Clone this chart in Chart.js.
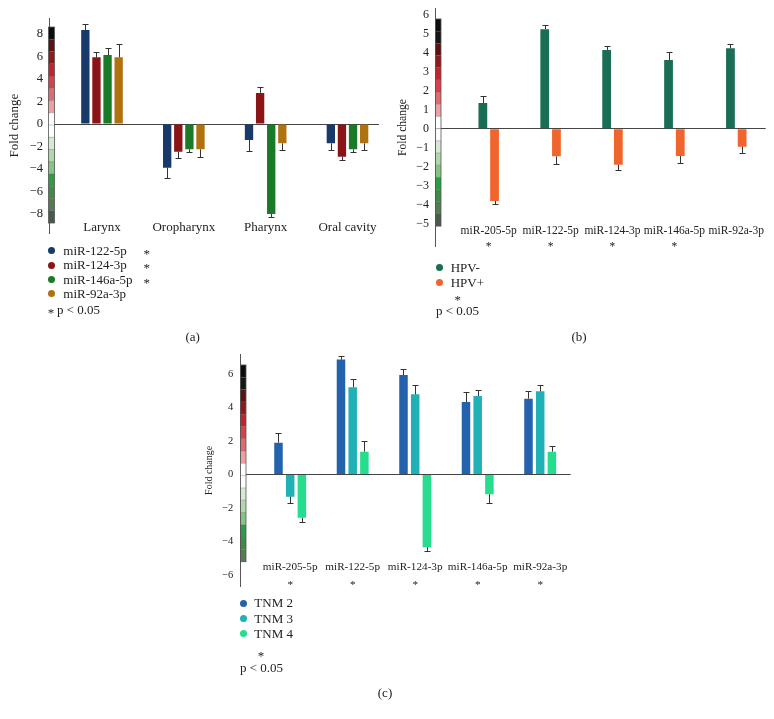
<!DOCTYPE html>
<html><head><meta charset="utf-8">
<script src="https://cdn.jsdelivr.net/npm/chart.js@4/dist/chart.umd.min.js"></script>
<style>
html,body{margin:0;padding:0;background:#fff;}
#wrap{position:relative;width:774px;height:719px;overflow:hidden;font-family:"Liberation Serif","DejaVu Serif",serif;color:#222;}
canvas{position:absolute;left:0;top:0;}
.t{position:absolute;white-space:nowrap;font-size:13px;line-height:16px;height:16px;}
.dot{position:absolute;width:7px;height:7px;border-radius:50%;}
</style></head><body><div id="wrap">
<canvas id="ca" width="774" height="719"></canvas>
<canvas id="cb" width="774" height="719"></canvas>
<canvas id="cc" width="774" height="719"></canvas>
</div>
<script>
// ---------- DATA ----------
// Panel (a): tumour site
const sitesA = ['Larynx', 'Oropharynx', 'Pharynx', 'Oral cavity'];
const mirNamesA = ['miR-122-5p', 'miR-124-3p', 'miR-146a-5p', 'miR-92a-3p'];
const mirSigA = [true, true, true, false];
const a_miR122 = [8.36, -3.88, -1.42, -1.72];
const a_miR124 = [5.93, -2.46, 2.76, -2.91];
const a_miR146a = [6.13, -2.25, -8.00, -2.25];
const a_miR92a = [5.93, -2.25, -1.72, -1.72];
const a_err122 = [0.53, 0.95, 0.98, 0.56];
const a_err124 = [0.44, 0.54, 0.56, 0.32];
const a_err146a = [0.65, 0.27, 0.27, 0.27];
const a_err92a = [1.21, 0.71, 0.56, 0.56];
const yTicksA = [8, 6, 4, 2, 0, -2, -4, -6, -8];

// Panel (b): HPV status
const mirsB = ['miR-205-5p', 'miR-122-5p', 'miR-124-3p', 'miR-146a-5p', 'miR-92a-3p'];
const sigB = [true, true, true, true, false];
const groupsB = ['HPV-', 'HPV+'];
const b_hpvNeg = [1.36, 5.24, 4.15, 3.62, 4.24];
const b_hpvPos = [-3.80, -1.45, -1.89, -1.43, -0.94];
const b_errNeg = [0.35, 0.22, 0.21, 0.41, 0.24];
const b_errPos = [0.14, 0.42, 0.29, 0.37, 0.35];
const yTicksB = [6, 5, 4, 3, 2, 1, 0, -1, -2, -3, -4, -5];

// Panel (c): TNM stage
const mirsC = ['miR-205-5p', 'miR-122-5p', 'miR-124-3p', 'miR-146a-5p', 'miR-92a-3p'];
const sigC = [true, true, true, true, true];
const stagesC = ['TNM 2', 'TNM 3', 'TNM 4'];
const c_tnm2 = [1.90, 6.85, 5.93, 4.32, 4.52];
const c_tnm3 = [-1.32, 5.20, 4.78, 4.68, 4.96];
const c_tnm4 = [-2.58, 1.36, -4.34, -1.18, 1.36];
const c_err2 = [0.56, 0.22, 0.34, 0.60, 0.46];
const c_err3 = [0.40, 0.48, 0.54, 0.34, 0.39];
const c_err4 = [0.27, 0.66, 0.22, 0.54, 0.34];
const yTicksC = [6, 4, 2, 0, -2, -4, -6];

// ---------- STYLE ----------
const SERIF = "'Liberation Serif', 'DejaVu Serif', serif";
const colorsA = ['#183a6a', '#8a1416', '#197a27', '#b0720f'];
const colorsB = ['#1a6e55', '#f0652d'];
const colorsC = ['#2462ae', '#1fb1b6', '#25dd8c'];
const cbarA = ['#0d0d0d','#5a1212','#8e1a1e','#c4222c','#d8404a','#e06a72','#eba0a6','#ffffff','#ffffff','#d6e9d3','#b0d8aa','#86c482','#2c9c45','#3f8a46','#557a55','#4a5a4a'];
const cbarB = ['#0d0d0d','#151515','#5a1212','#8e1a1e','#c4222c','#d8404a','#e06a72','#eba0a6','#ffffff','#ffffff','#d6e9d3','#b0d8aa','#86c482','#2c9c45','#3f8a46','#557a55','#4a5a4a'];
const cbarC = ['#0d0d0d','#151515','#5a1212','#8e1a1e','#c4222c','#d8404a','#e06a72','#eba0a6','#ffffff','#ffffff','#d6e9d3','#b0d8aa','#86c482','#2c9c45','#3f8a46','#557a55'];

Chart.defaults.color = '#222';

const errorBarPlugin = {
  id: 'errbars',
  afterDatasetsDraw(chart, args, opts) {
    const ctx = chart.ctx, ys = chart.scales.y;
    ctx.save();
    ctx.strokeStyle = opts.color || '#333';
    ctx.lineWidth = 1;
    chart.data.datasets.forEach((ds, di) => {
      const meta = chart.getDatasetMeta(di);
      meta.data.forEach((bar, i) => {
        const v = ds.data[i].y, e = ds.errors[i];
        const end = v + Math.sign(v) * e;
        const py = Math.round(ys.getPixelForValue(end)) + 0.5;
        const x = Math.round(bar.x) + 0.5;
        ctx.beginPath();
        ctx.moveTo(x, bar.y); ctx.lineTo(x, py);
        ctx.moveTo(x - 3, py); ctx.lineTo(x + 3, py);
        ctx.stroke();
      });
    });
    ctx.restore();
  }
};

const colorBarPlugin = {
  id: 'cbar',
  afterDraw(chart, args, opts) {
    const ctx = chart.ctx, ys = chart.scales.y, ca = chart.chartArea;
    const top = ys.getPixelForValue(opts.top), bot = ys.getPixelForValue(opts.bottom);
    const n = opts.colors.length, h = (bot - top) / n;
    const x0 = ca.left + opts.dx, w = opts.width;
    ctx.save();
    for (let i = 0; i < n; i++) {
      ctx.fillStyle = opts.colors[i];
      ctx.fillRect(x0, top + i * h, w, h);
    }
    ctx.strokeStyle = 'rgba(90,90,90,0.55)';
    ctx.lineWidth = 0.6;
    for (let i = 1; i < n; i++) {
      ctx.beginPath(); ctx.moveTo(x0, top + i * h); ctx.lineTo(x0 + w, top + i * h); ctx.stroke();
    }
    ctx.strokeStyle = '#555';
    ctx.lineWidth = 0.8;
    ctx.strokeRect(x0, top, w, bot - top);
    ctx.restore();
  }
};

const minus = v => v < 0 ? '\u2212' + Math.abs(v) : String(v);

function makeChart(id, d) {
  const datasets = d.series.map((vals, k) => ({
    label: d.names[k],
    data: vals.map((v, i) => ({ x: i, y: v })),
    errors: d.errs[k],
    backgroundColor: d.colors[k],
    borderWidth: 0
  }));
  return new Chart(document.getElementById(id), {
    type: 'bar',
    data: { datasets },
    options: {
      responsive: false, animation: false,
      layout: { padding: d.pad },
      datasets: { bar: { categoryPercentage: d.catPct, barPercentage: d.barPct } },
      plugins: {
        legend: { display: false }, tooltip: { enabled: false },
        errbars: { color: '#333' },
        cbar: d.cbar
      },
      scales: {
        x: {
          type: 'linear', position: 'bottom', bounds: 'data', offset: false,
          min: d.xMin, max: d.xMax,
          grid: { display: false, drawTicks: false },
          border: { display: false },
          afterBuildTicks: s => { s.ticks = d.cats.map((_, i) => ({ value: i })); },
          afterFit: s => { s.height = 10; s.paddingLeft = 0; s.paddingRight = 0; s.paddingTop = 0; s.paddingBottom = 0; },
          ticks: {
            mirror: true,
            autoSkip: false, maxRotation: 0, minRotation: 0, padding: d.xPad,
            font: { family: SERIF, size: d.xFont, lineHeight: d.xLine },
            color: '#222',
            callback: v => { const i = Math.round(v); return d.sig && d.sig[i] ? [d.cats[i], '*'] : d.cats[i]; }
          }
        },
        y: {
          type: 'linear', bounds: 'data', min: d.yMin, max: d.yMax,
          afterBuildTicks: s => { s.ticks = d.yTicks.map(v => ({ value: v })); },
          afterFit: s => { s.width = d.yW; s.paddingLeft = 0; s.paddingRight = 0; s.paddingTop = 0; s.paddingBottom = 0; },
          grid: { drawTicks: false, lineWidth: 1, color: c => (c.tick && c.tick.value === 0) ? '#444' : 'rgba(0,0,0,0)' },
          border: { display: true, color: '#555', width: 1 },
          ticks: { padding: d.yPad, font: { family: SERIF, size: d.yFont }, color: '#222', callback: v => minus(v) },
          title: { display: true, text: 'Fold change', font: { family: SERIF, size: d.titleFont }, color: '#222', padding: { top: d.titlePad, bottom: 0 } }
        }
      }
    },
    plugins: [errorBarPlugin, colorBarPlugin]
  });
}

makeChart('ca', {
  cats: sitesA, sig: null,
  series: [a_miR122, a_miR124, a_miR146a, a_miR92a], names: mirNamesA,
  errs: [a_err122, a_err124, a_err146a, a_err92a], colors: colorsA,
  pad: { left: 0, top: 18.3, right: 395, bottom: 476 }, yW: 49,
  xMin: -0.6477, xMax: 3.385, yMin: -9.689, yMax: 9.396, yTicks: yTicksA,
  catPct: 0.5426, barPct: 0.75, xPad: -2.8, xFont: 13, xLine: 1.2,
  yPad: 6, yFont: 12.6, titleFont: 13, titlePad: 7.2,
  cbar: { top: 8.62, bottom: -8.8, dx: -0.5, width: 6, colors: cbarA }
});
makeChart('cb', {
  cats: mirsB, sig: sigB,
  series: [b_hpvNeg, b_hpvPos], names: groupsB,
  errs: [b_errNeg, b_errPos], colors: colorsB,
  pad: { left: 390, top: 8.3, right: 8.3, bottom: 462.3 }, yW: 45,
  xMin: -0.8675, xMax: 4.475, yMin: -6.205, yMax: 6.342, yTicks: yTicksB,
  catPct: 0.378, barPct: 0.75, xPad: 7.5, xFont: 11.5, xLine: 1.43,
  yPad: 6, yFont: 12, titleFont: 11.6, titlePad: 6.3,
  cbar: { top: 5.78, bottom: -5.12, dx: 0.5, width: 5.5, colors: cbarB }
});
makeChart('cc', {
  cats: mirsC, sig: sigC,
  series: [c_tnm2, c_tnm3, c_tnm4], names: stagesC,
  errs: [c_err2, c_err3, c_err4], colors: colorsC,
  pad: { left: 195, top: 354, right: 203.3, bottom: 122.3 }, yW: 45.5,
  xMin: -0.795, xMax: 4.488, yMin: -6.69, yMax: 7.185, yTicks: yTicksC,
  catPct: 0.5616, barPct: 0.727, xPad: 11, xFont: 11.2, xLine: 1.6,
  yPad: 7.2, yFont: 10.5, titleFont: 10, titlePad: 8.2,
  cbar: { top: 6.53, bottom: -5.2, dx: 0, width: 5.5, colors: cbarC }
});

// ---------- HTML legends & panel letters ----------
const wrap = document.getElementById('wrap');
function addText(txt, x, y, center, dy) {
  const el = document.createElement('div');
  el.className = 't';
  el.textContent = txt;
  el.style.left = x + 'px';
  el.style.top = (y - 8 + (dy || 0)) + 'px';
  if (center) el.style.transform = 'translateX(-50%)';
  wrap.appendChild(el);
}
function addDot(color, x, y) {
  const el = document.createElement('div');
  el.className = 'dot';
  el.style.background = color;
  el.style.left = (x - 3.5) + 'px';
  el.style.top = (y - 3.5) + 'px';
  wrap.appendChild(el);
}
// (a)
mirNamesA.forEach((n, i) => {
  const y = 250.6 + 14.45 * i;
  addDot(colorsA[i], 51.7, y);
  addText(n, 63.3, y);
  if (mirSigA[i]) addText('*', 146.7, y, true, 3);
});
addText('*', 51, 310, true, 3);
addText('p < 0.05', 57, 310);
addText('(a)', 192.7, 336.7, true);
// (b)
groupsB.forEach((n, i) => {
  const y = 267.7 + 15 * i;
  addDot(colorsB[i], 439.3, y);
  addText(n, 450.7, y);
});
addText('*', 457.7, 296.7, true, 3);
addText('p < 0.05', 436, 310.7);
addText('(b)', 579, 336.7, true);
// (c)
stagesC.forEach((n, i) => {
  const y = 603.3 + 15.2 * i;
  addDot(colorsC[i], 243.3, y);
  addText(n, 254.3, y);
});
addText('*', 261, 653.3, true, 3);
addText('p < 0.05', 240, 667.7);
addText('(c)', 385, 692.7, true);
</script>
</body></html>
